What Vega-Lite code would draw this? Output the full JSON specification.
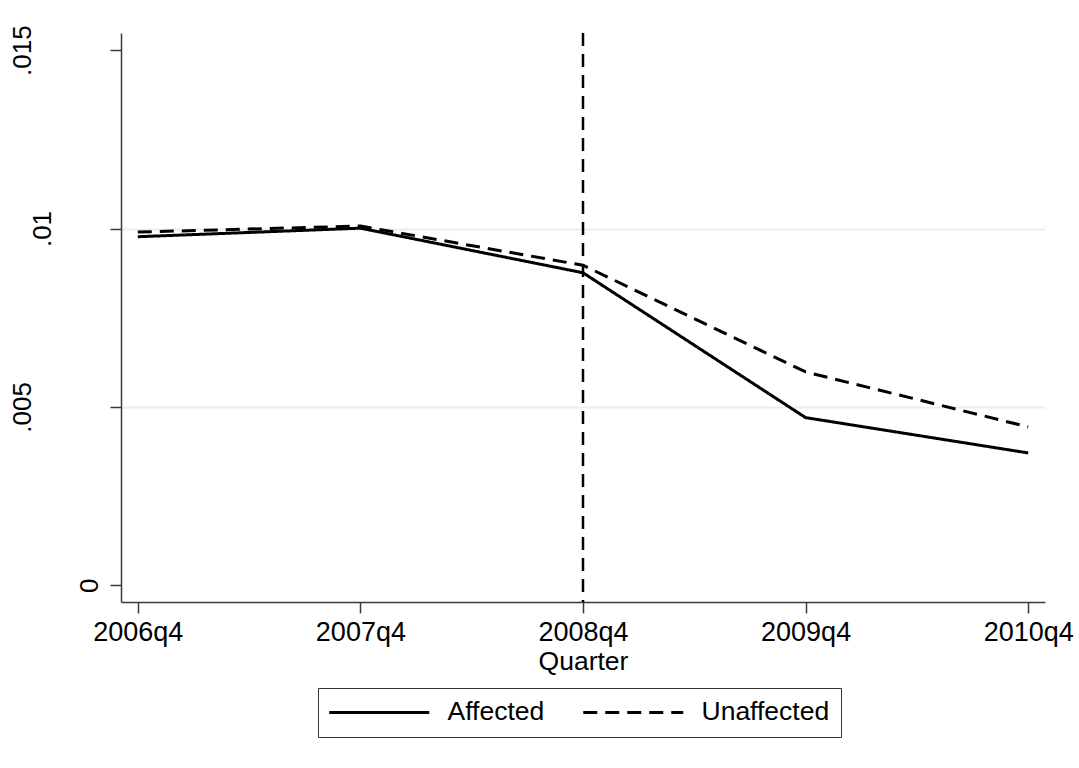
{
  "$schema": "https://vega.github.io/schema/vega-lite/v6.json",
  "autosize": {"type": "none"},
  "width": 924,
  "height": 569,
  "padding": {"left": 121, "top": 33, "right": 34, "bottom": 166},
  "background": "white",
  "config": {
    "view": {"stroke": null},
    "font": "Liberation Sans",
    "axis": {"labelFont": "Liberation Sans", "titleFont": "Liberation Sans", "labelColor": "black", "titleColor": "black"},
    "legend": {"labelFont": "Liberation Sans"}
  },
  "datasets": {
    "series": [
      {"quarter": "2006q4", "group": "Affected", "value": 0.00977},
      {"quarter": "2007q4", "group": "Affected", "value": 0.01001},
      {"quarter": "2008q4", "group": "Affected", "value": 0.00876},
      {"quarter": "2009q4", "group": "Affected", "value": 0.00470},
      {"quarter": "2010q4", "group": "Affected", "value": 0.00371},
      {"quarter": "2006q4", "group": "Unaffected", "value": 0.00990},
      {"quarter": "2007q4", "group": "Unaffected", "value": 0.01007},
      {"quarter": "2008q4", "group": "Unaffected", "value": 0.00897},
      {"quarter": "2009q4", "group": "Unaffected", "value": 0.00598},
      {"quarter": "2010q4", "group": "Unaffected", "value": 0.00444}
    ],
    "event": [{"quarter": "2008q4"}]
  },
  "layer": [
    {
      "data": {"name": "event"},
      "mark": {"type": "rule", "color": "black", "strokeWidth": 2.5, "strokeDash": [13, 8]},
      "encoding": {
        "x": {"field": "quarter", "type": "ordinal"}
      }
    },
    {
      "data": {"name": "series"},
      "mark": {"type": "line", "color": "black", "strokeWidth": 3},
      "encoding": {
        "x": {
          "field": "quarter",
          "type": "ordinal",
          "sort": ["2006q4", "2007q4", "2008q4", "2009q4", "2010q4"],
          "scale": {"type": "point", "domain": ["2006q4", "2007q4", "2008q4", "2009q4", "2010q4"], "padding": 0.0755},
          "axis": {
            "title": "Quarter",
            "titleFontSize": 26.5,
            "titleFontWeight": "normal",
            "titleBaseline": "alphabetic",
            "titleY": 67,
            "labelFontSize": 27,
            "labelAngle": 0,
            "labelAlign": "center",
            "labelBaseline": "alphabetic",
            "labelPadding": 27,
            "tickSize": 11,
            "tickWidth": 1.5,
            "tickColor": "#3a3a3a",
            "domainColor": "#3a3a3a",
            "domainWidth": 1.5,
            "grid": false
          }
        },
        "y": {
          "field": "value",
          "type": "quantitative",
          "scale": {"domain": [-0.000468, 0.01548], "nice": false, "zero": false},
          "axis": {
            "title": null,
            "values": [0, 0.005, 0.01, 0.015],
            "labelExpr": "datum.value == 0 ? '0' : slice(format(datum.value, '.3~f'), 1)",
            "labelFontSize": 26,
            "labelAngle": -90,
            "labelAlign": "center",
            "labelBaseline": "alphabetic",
            "labelPadding": {"condition": [
              {"test": "datum.value == 0", "value": 13},
              {"test": "datum.value == 0.01", "value": 60}
            ], "value": 80},
            "tickSize": 11,
            "tickWidth": 1.5,
            "tickColor": "#3a3a3a",
            "domainColor": "#3a3a3a",
            "domainWidth": 1.5,
            "grid": true,
            "gridWidth": 2,
            "gridColor": {"condition": {"test": "datum.value == 0.005 || datum.value == 0.01", "value": "#e8eff1"}, "value": "transparent"}
          }
        },
        "strokeDash": {
          "field": "group",
          "type": "nominal",
          "scale": {"domain": ["Affected", "Unaffected"], "range": [[1, 0], [14, 8]]},
          "legend": {
            "title": null,
            "orient": "none",
            "legendX": 197,
            "legendY": 655,
            "direction": "horizontal",
            "strokeColor": "#333333",
            "fillColor": "white",
            "padding": 11,
            "cornerRadius": 0,
            "symbolType": "M-1.3,0L8.7,0",
            "symbolSize": 400,
            "symbolStrokeWidth": 3,
            "symbolStrokeColor": "black",
            "labelFontSize": 26.5,
            "labelColor": "black",
            "labelOffset": 92,
            "columnPadding": 32,
            "labelLimit": 300
          }
        }
      }
    }
  ]
}
